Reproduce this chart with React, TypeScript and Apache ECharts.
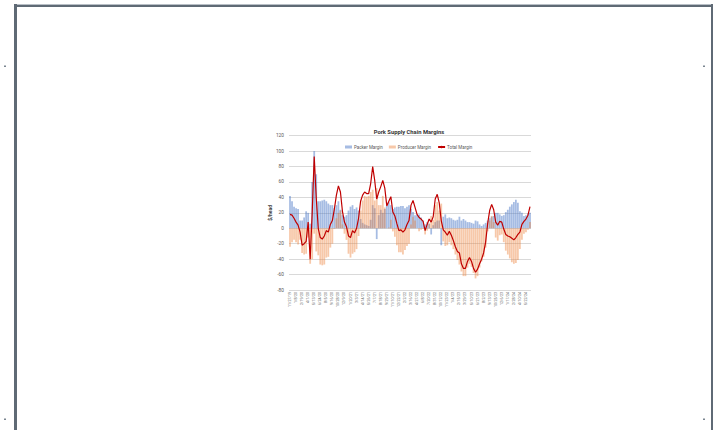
import React, { useEffect, useRef } from "react";
import * as echarts from "echarts";

// Biweekly observations starting 11/27/2019
const START_DATE = "2019-11-27";
const STEP_DAYS = 14;

const packerMargin: number[] = [
  42, 35, 28, 26, 25, 10, 10, 14, 22, 20,
  6, 60, 100, 70, 35, 35, 36, 37, 35, 32,
  30, 30, 26, 30, 35, 24, 17, 15, 17, 23,
  28, 30, 25, 27, 23, 12, 7, 5, 4, 3,
  11, 30, 26, -14, 17, 24, 20, 25, 29, 34,
  30, 25, 27, 28, 28, 29, 29, 26, 28, 30,
  25, 21, 17, 18, 18, 14, 10, 5, 8, 6,
  -8, 4, 8, 10, 10, -22, 15, 18, 13, 14,
  13, 11, 10, 11, 15, 10, 12, 10, 8, 8,
  7, 6, 10, 9, 5, 3, 5, 7, 10, 13,
  15, 16, 20, 20, 18, 16, 17, 21, 24, 28,
  31, 34, 37, 33, 22, 20, 16, 17, 19, 20,
];

const producerMargin: number[] = [
  -24, -18, -15, -18, -21, -15, -32, -34, -33, -12,
  -46, -40, -7, -30, -35, -47, -48, -47, -38, -37,
  -25, -20, -1, 13, 20, 23, 5, -7, -15, -33,
  -38, -33, -31, -27, -10, 23, 36, 42, 41, 42,
  47, 50, 36, 52, 30, 30, 42, 27, 0, 1,
  11, -4, -11, -22, -31, -31, -34, -28, -23, -20,
  5, 15, 10, 0, -4, -2, -1, -8, -3, 6,
  16, 11, 30, 34, 23, 32, -17, -23, -22, -18,
  -22, -27, -34, -41, -47, -56, -62, -62, -51, -46,
  -50, -58, -65, -62, -51, -43, -37, -25, -4, 10,
  16, 8, -12, -16, -9, -8, -18, -29, -34, -39,
  -44, -46, -45, -41, -27, -15, -7, -5, -2, 8,
];

const totalMargin: number[] = [
  18, 17, 13, 8, 4, -5, -22, -20, -17, 8,
  -40, 20, 93, 40, 0, -12, -14, -10, -3, -5,
  5, 10, 25, 43, 55, 47, 22, 8, 2, -10,
  -12, -3, -6, 0, 13, 35, 43, 47, 45, 45,
  58, 80, 62, 38, 47, 54, 62, 52, 29, 35,
  41, 21, 16, 6, -3, -2, -5, -2, 5, 10,
  30, 36, 27, 18, 14, 12, 9, -3, 5, 12,
  8, 15, 38, 44, 33, 10, -2, -5, -9, -4,
  -9, -16, -24, -30, -32, -46, -52, -52, -43, -38,
  -43, -52, -57, -53, -46, -40, -32, -18, 6, 23,
  31, 24, 8, 4, 9, 8, -1, -8, -10, -11,
  -13, -15, -12, -8, -5, 5, 9, 12, 17, 28,
];

function buildDates(start: string, count: number, step: number): string[] {
  const out: string[] = [];
  const d0 = new Date(start + "T00:00:00Z");
  for (let i = 0; i < count; i++) {
    const d = new Date(d0.getTime() + i * step * 86400000);
    out.push(`${d.getUTCMonth() + 1}/${d.getUTCDate()}/${String(d.getUTCFullYear()).slice(2)}`);
  }
  return out;
}

const categories: string[] = buildDates(START_DATE, packerMargin.length, STEP_DAYS);

const FONT = "Roboto";

export default function App() {
  const ref = useRef<HTMLDivElement>(null);

  useEffect(() => {
    if (!ref.current) return;
    const chart = echarts.init(ref.current, undefined, { renderer: "svg" });
    const frame = "#5f6a75";
    chart.setOption({
      animation: false,
      backgroundColor: "#ffffff",
      title: {
        text: "Pork Supply Chain Margins",
        left: 404,
        top: 124,
        textAlign: "center",
        textStyle: { fontFamily: FONT, fontSize: 5.8, fontWeight: "bold", color: "#333333" },
      },
      legend: {
        left: 340,
        top: 139.5,
        itemGap: 6,
        itemWidth: 7,
        itemHeight: 3,
        textStyle: { fontFamily: FONT, fontSize: 4.5, color: "#595959", padding: [0, 0, 0, -3] },
        data: [
          { name: "Packer Margin", icon: "rect" },
          { name: "Producer Margin", icon: "rect" },
          { name: "Total Margin" },
        ],
      },
      grid: { left: 289, right: 182, top: 135.7, bottom: 140, containLabel: false },
      xAxis: {
        type: "category",
        data: categories,
        boundaryGap: true,
        axisLine: { show: false },
        axisTick: { show: false },
        axisLabel: {
          interval: 2,
          rotate: 90,
          fontFamily: FONT,
          fontSize: 3.6,
          color: "#595959",
          margin: 2,
        },
      },
      yAxis: {
        type: "value",
        min: -80,
        max: 120,
        interval: 20,
        name: "$/head",
        nameLocation: "middle",
        nameRotate: 90,
        nameGap: 17,
        nameTextStyle: { fontFamily: FONT, fontSize: 5, fontWeight: "bold", color: "#404040" },
        axisLine: { show: false },
        axisTick: { show: false },
        axisLabel: { fontFamily: FONT, fontSize: 4.8, color: "#595959", margin: 5 },
        splitLine: { lineStyle: { color: "#d9d9d9", width: 1 } },
      },
      series: [
        {
          name: "Packer Margin",
          type: "bar",
          data: packerMargin,
          barGap: "-100%",
          barCategoryGap: "12%",
          itemStyle: { color: "rgba(68,114,196,0.48)" },
        },
        {
          name: "Producer Margin",
          type: "bar",
          data: producerMargin,
          barGap: "-100%",
          barCategoryGap: "12%",
          itemStyle: { color: "rgba(237,125,49,0.42)" },
        },
        {
          name: "Total Margin",
          type: "line",
          data: totalMargin,
          symbol: "none",
          showSymbol: false,
          lineStyle: { color: "#c00000", width: 1.2 },
          itemStyle: { color: "#c00000" },
        },
      ],
      graphic: [
        { type: "rect", shape: { x: 14, y: 4, width: 699, height: 1 }, style: { fill: "#b8bfc6" }, silent: true },
        { type: "rect", shape: { x: 14, y: 5, width: 699, height: 2 }, style: { fill: frame }, silent: true },
        { type: "rect", shape: { x: 14, y: 4, width: 3, height: 426 }, style: { fill: frame }, silent: true },
        { type: "rect", shape: { x: 711, y: 4, width: 2, height: 426 }, style: { fill: frame }, silent: true },
        { type: "rect", shape: { x: 4, y: 65.5, width: 2, height: 1.5 }, style: { fill: "#7a8590" }, silent: true },
        { type: "rect", shape: { x: 703, y: 65.5, width: 2, height: 1.5 }, style: { fill: "#7a8590" }, silent: true },
        { type: "rect", shape: { x: 4, y: 418.5, width: 2, height: 1.5 }, style: { fill: "#7a8590" }, silent: true },
        { type: "rect", shape: { x: 703, y: 418.5, width: 2, height: 1.5 }, style: { fill: "#7a8590" }, silent: true },
      ],
    });
    return () => chart.dispose();
  }, []);

  return (
    <div
      ref={ref}
      style={{ position: "absolute", left: 0, top: 0, width: 713, height: 430 }}
    />
  );
}
